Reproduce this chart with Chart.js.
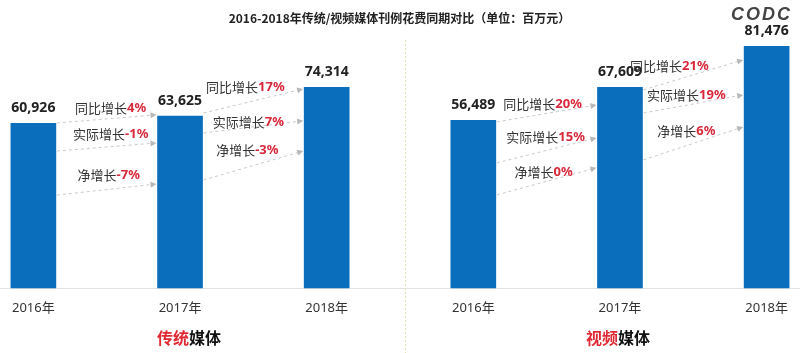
<!DOCTYPE html>
<html>
<head>
<meta charset="utf-8">
<script src="https://cdn.jsdelivr.net/npm/chart.js@4.4.1/dist/chart.umd.min.js"></script>
<style>
  html, body { margin: 0; padding: 0; background: #fff; }
  #wrap { width: 800px; height: 353px; }
</style>
</head>
<body>
<div id="wrap"><canvas id="mediaChart"></canvas></div>
<script>
// 数据 (单位：百万元)
const years = ['2016年', '2017年', '2018年'];
const groupNames = ['传统媒体', '视频媒体'];
const traditional = [60926, 63625, 74314];
const video = [56489, 67609, 81476];

// 增长率 (%)，依次为 2016->2017, 2017->2018
const growthNames = ['同比增长', '实际增长', '净增长'];
const tradYoY = [4, 17];
const tradReal = [-1, 7];
const tradNet = [-7, -3];
const videoYoY = [20, 21];
const videoReal = [15, 19];
const videoNet = [0, 6];

const CJK = '"Noto Sans CJK SC", sans-serif';
const LATIN = '"Noto Sans", "Noto Sans CJK SC", sans-serif';
const BLUE = '#0a6ebd';
const RED = '#d9283a';

// 箭头位置 (数值坐标，千): [起点, 终点, 文字y, 文字x偏移]
const arrowLayout = [
  [ // 传统媒体
    [[61.1, 64.1, 66.7, 4], [50.7, 53.7, 57.0, 4], [34.4, 38.5, 41.9, 2]],
    [[64.8, 73.7, 74.4, -8], [57.4, 61.9, 61.5, -5], [40.0, 50.7, 51.1, -6]]
  ],
  [ // 视频媒体
    [[56.0, 61.7, 62.0, -4], [42.2, 50.6, 50.9, -1], [31.4, 40.5, 39.1, -3]],
    [[66.8, 76.9, 74.9, -24], [59.0, 65.1, 65.1, -7], [43.2, 54.3, 52.9, -7]]
  ]
];
const growthData = [
  [tradYoY, tradReal, tradNet],
  [videoYoY, videoReal, videoNet]
];

function drawArrow(ctx, x0, y0, x1, y1) {
  const a = Math.atan2(y1 - y0, x1 - x0);
  ctx.save();
  ctx.strokeStyle = '#c9c9c9';
  ctx.lineWidth = 1;
  ctx.setLineDash([3, 3]);
  ctx.beginPath();
  ctx.moveTo(x0, y0);
  ctx.lineTo(x1 - 5 * Math.cos(a), y1 - 5 * Math.sin(a));
  ctx.stroke();
  ctx.setLineDash([]);
  ctx.fillStyle = '#b8b8b8';
  ctx.beginPath();
  ctx.moveTo(x1, y1);
  ctx.lineTo(x1 - 6 * Math.cos(a) + 3 * Math.sin(a), y1 - 6 * Math.sin(a) - 3 * Math.cos(a));
  ctx.lineTo(x1 - 6 * Math.cos(a) - 3 * Math.sin(a), y1 - 6 * Math.sin(a) + 3 * Math.cos(a));
  ctx.closePath();
  ctx.fill();
  ctx.restore();
}

function drawGrowthText(ctx, cx, cy, name, pct) {
  ctx.save();
  ctx.textBaseline = 'middle';
  ctx.textAlign = 'left';
  ctx.font = '13px ' + CJK;
  const w1 = ctx.measureText(name).width;
  const pctText = pct + '%';
  ctx.font = 'bold 13px ' + LATIN;
  const w2 = ctx.measureText(pctText).width;
  const x = cx - (w1 + w2) / 2;
  ctx.font = '13px ' + CJK;
  ctx.fillStyle = '#333';
  ctx.fillText(name, x, cy);
  ctx.font = 'bold 13px ' + LATIN;
  ctx.fillStyle = RED;
  ctx.fillText(pctText, x + w1, cy);
  ctx.restore();
}

const decorPlugin = {
  id: 'decor',
  beforeDatasetsDraw(chart) {
    const ctx = chart.ctx;
    const area = chart.chartArea;
    // 底线
    ctx.save();
    ctx.strokeStyle = '#e3e3e3';
    ctx.lineWidth = 1;
    ctx.beginPath();
    ctx.moveTo(0, area.bottom + 0.5);
    ctx.lineTo(chart.width, area.bottom + 0.5);
    ctx.stroke();
    // 分隔虚线
    const xs = chart.scales.x;
    const sepX = Math.round((xs.getPixelForValue(2) + xs.getPixelForValue(3)) / 2 + 5) + 0.5;
    ctx.strokeStyle = '#e6e0b8';
    ctx.setLineDash([2, 2]);
    ctx.beginPath();
    ctx.moveTo(sepX, 40);
    ctx.lineTo(sepX, chart.height);
    ctx.stroke();
    ctx.restore();
  },
  afterDatasetsDraw(chart) {
    const ctx = chart.ctx;
    const axes = ['y', 'y2'];
    [0, 1].forEach(function (d) {
      const meta = chart.getDatasetMeta(d);
      const ys = chart.scales[axes[d]];
      const base = d * 3;
      // 数值标签
      ctx.save();
      ctx.font = 'bold 14px ' + LATIN;
      ctx.fillStyle = '#222';
      ctx.textAlign = 'center';
      ctx.textBaseline = 'middle';
      for (let i = 0; i < 3; i++) {
        const bar = meta.data[base + i];
        const v = chart.data.datasets[d].data[base + i];
        ctx.fillText(v.toLocaleString('en-US'), bar.x, bar.y - 15);
      }
      ctx.restore();
      // 增长箭头
      for (let s = 0; s < 2; s++) {
        const b0 = meta.data[base + s];
        const b1 = meta.data[base + s + 1];
        const x0 = b0.x + b0.width / 2 + 1;
        const x1 = b1.x - b1.width / 2 - 1;
        for (let k = 0; k < 3; k++) {
          const p = arrowLayout[d][s][k];
          drawArrow(ctx, x0, ys.getPixelForValue(p[0] * 1000), x1, ys.getPixelForValue(p[1] * 1000));
        }
        for (let k = 0; k < 3; k++) {
          const p = arrowLayout[d][s][k];
          drawGrowthText(ctx, (x0 + x1) / 2 + p[3], ys.getPixelForValue(p[2] * 1000),
            growthNames[k], growthData[d][k][s]);
        }
      }
    });
    // 分组标题
    const xs = chart.scales.x;
    const offsets = [9, -2];
    [0, 1].forEach(function (g) {
      const name = groupNames[g];
      const cx = xs.getPixelForValue(g * 3 + 1) + offsets[g];
      ctx.save();
      ctx.font = 'bold 16px ' + CJK;
      ctx.textBaseline = 'middle';
      ctx.textAlign = 'left';
      const w = ctx.measureText(name).width;
      const wRed = ctx.measureText(name.slice(0, 2)).width;
      ctx.fillStyle = '#e02b35';
      ctx.fillText(name.slice(0, 2), cx - w / 2, 338);
      ctx.fillStyle = '#111';
      ctx.fillText(name.slice(2), cx - w / 2 + wRed, 338);
      ctx.restore();
    });
    // logo
    ctx.save();
    ctx.font = 'italic bold 18px "Liberation Sans", sans-serif';
    ctx.letterSpacing = '2px';
    ctx.fillStyle = '#444';
    ctx.textAlign = 'right';
    ctx.textBaseline = 'middle';
    ctx.fillText('CODC', 792, 15);
    ctx.restore();
  }
};

const labels = years.concat(years);
const empty = [null, null, null];

new Chart(document.getElementById('mediaChart'), {
  type: 'bar',
  data: {
    labels: labels,
    datasets: [
      {
        label: groupNames[0],
        data: traditional.concat(empty),
        yAxisID: 'y',
        backgroundColor: BLUE,
        barThickness: 45,
        grouped: false,
        clip: false
      },
      {
        label: groupNames[1],
        data: empty.concat(video),
        yAxisID: 'y2',
        backgroundColor: BLUE,
        barThickness: 45,
        grouped: false,
        clip: false
      }
    ]
  },
  options: {
    responsive: true,
    maintainAspectRatio: false,
    animation: false,
    layout: { padding: { left: 32, right: 33, top: 0, bottom: 0 } },
    plugins: {
      legend: { display: false },
      tooltip: { enabled: false },
      title: {
        display: true,
        text: '2016-2018年传统/视频媒体刊例花费同期对比（单位：百万元）',
        color: '#222',
        font: { size: 12, weight: 'bold', family: CJK },
        padding: { top: 11, bottom: 6 }
      }
    },
    scales: {
      x: {
        offset: false,
        grid: { display: false, drawTicks: false },
        border: { display: false },
        ticks: {
          color: '#333',
          font: { size: 13, family: LATIN },
          padding: 12,
          maxRotation: 0,
          autoSkip: false
        },
        afterFit: function (scale) { scale.height = 65; }
      },
      y: { display: false, min: 0, max: 95000 },
      y2: { display: false, min: 0, max: 86500 }
    }
  },
  plugins: [decorPlugin]
});
</script>
</body>
</html>
